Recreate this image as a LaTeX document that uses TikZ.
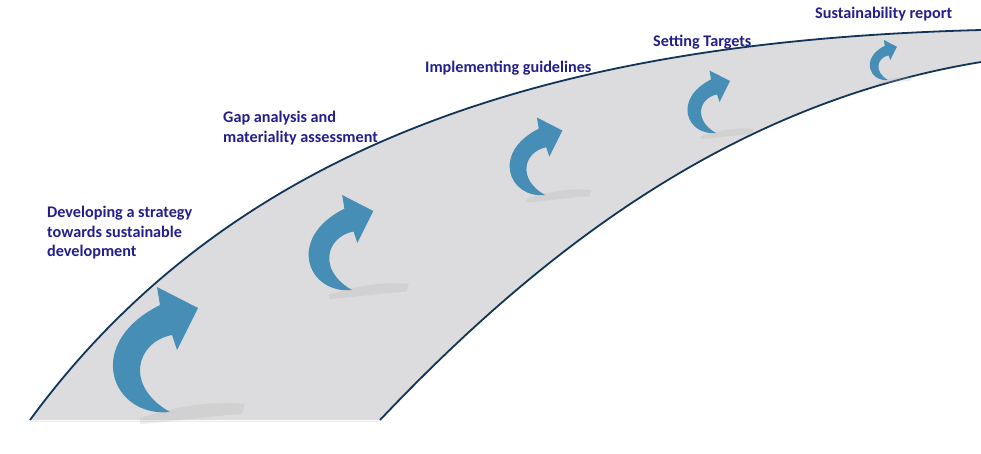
\documentclass[tikz,border=0pt]{standalone}
\usepackage{fontspec}
\setmainfont{Carlito}
\definecolor{navy}{RGB}{18,52,86}
\definecolor{lbl}{RGB}{34,30,140}
\definecolor{arr}{RGB}{70,142,182}
\definecolor{road}{RGB}{220,220,222}
\begin{document}
\begin{tikzpicture}[x=1pt,y=-1pt,
  lab/.style={text=lbl,font=\fontsize{16.2}{19.5}\selectfont\bfseries,align=left,anchor=north west,inner sep=0},
  edge/.style={draw=navy,line width=1.8pt}]
\useasboundingbox (0,0) rectangle (981,453);
\fill[road] (30,420) .. controls (250,120) and (600,40) .. (981,30) -- (981,62) .. controls (750,100) and (560,230) .. (380,420) -- cycle;
\draw[edge] (30,420) .. controls (250,120) and (600,40) .. (981,30);
\draw[edge] (380,420) .. controls (560,230) and (750,100) .. (981,62);
\draw[white!85!gray,line width=0.8pt] (30,421) -- (380,421);
\foreach \n/\px/\py/\s in {a/170/412/1, b/352/290/0.76, c/545/195/0.62, d/716/133/0.5, e/888/80/0.32}{
  \begin{scope}[shift={(\px,\py)},scale=\s]
    \fill[gray!60,opacity=0.25] (-30,6) .. controls (0,-4) and (40,-12) .. (75,-8) -- (72,2) .. controls (40,4) and (0,10) .. (-30,12) -- cycle;
    \fill[arr] (0,0) .. controls (-58,6) and (-88,-68) .. (-10,-107) -- (-13,-125) -- (28,-104) -- (7,-62) -- (2,-77) .. controls (-34,-70) and (-46,-26) .. (0,0) -- cycle;
    \coordinate (\n) at (0,0);
  \end{scope}}
\node[lab] (l1) at (47,206) {Developing a strategy\\towards sustainable\\development};
\node[lab] (l2) at (223,111) {Gap analysis and\\materiality assessment};
\node[lab] (l3) at (425,61) {Implementing guidelines};
\node[lab] (l4) at (653,35) {Setting Targets};
\node[lab] (l5) at (815,7) {Sustainability report};
\end{tikzpicture}
\end{document}
